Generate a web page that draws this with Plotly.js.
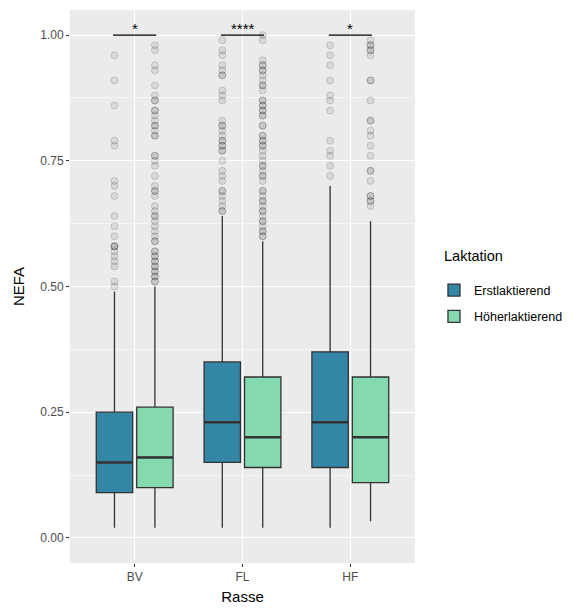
<!DOCTYPE html>
<html>
<head>
<meta charset="utf-8">
<script src="https://cdn.plot.ly/plotly-3.0.1.min.js"></script>
<style>html,body{margin:0;padding:0;background:#fff;}#chart{width:585px;height:609px;}</style>
</head>
<body>
<div id="chart"></div>
<script>
// ---- data ----
var categories = ['BV', 'FL', 'HF'];
var groups = ['Erstlaktierend', 'Höherlaktierend'];
var groupColors = ['#3386A6', '#84DAAE'];
var legendTitle = 'Laktation';

var erstLower  = [0.02, 0.02, 0.02];
var erstQ1     = [0.09, 0.15, 0.14];
var erstMedian = [0.15, 0.23, 0.23];
var erstQ3     = [0.25, 0.35, 0.37];
var erstUpper  = [0.49, 0.64, 0.70];

var hoehLower  = [0.02, 0.02, 0.033];
var hoehQ1     = [0.10, 0.14, 0.11];
var hoehMedian = [0.16, 0.20, 0.20];
var hoehQ3     = [0.26, 0.32, 0.32];
var hoehUpper  = [0.50, 0.59, 0.63];

var erstOutBV = [0.96, 0.91, 0.86, 0.79, 0.78, 0.71, 0.70, 0.68, 0.64, 0.62, 0.60, 0.58, 0.58, 0.58, 0.57, 0.56, 0.55, 0.54, 0.51, 0.50];
var erstOutFL = [0.99, 0.97, 0.96, 0.94, 0.93, 0.92, 0.92, 0.89, 0.88, 0.87, 0.83, 0.82, 0.82, 0.81, 0.80, 0.79, 0.79, 0.78, 0.78, 0.77, 0.77, 0.75, 0.73, 0.72, 0.71, 0.69, 0.69, 0.68, 0.67, 0.66, 0.65, 0.65];
var erstOutHF = [0.98, 0.96, 0.94, 0.91, 0.88, 0.87, 0.85, 0.79, 0.77, 0.76, 0.74, 0.72];

var hoehOutBV = [0.98, 0.97, 0.94, 0.93, 0.90, 0.88, 0.87, 0.87, 0.85, 0.85, 0.84, 0.83, 0.82, 0.82, 0.81, 0.80, 0.80, 0.76, 0.76, 0.75, 0.74, 0.72, 0.70, 0.69, 0.69, 0.68, 0.66, 0.65, 0.64, 0.64, 0.63, 0.62, 0.61, 0.60, 0.59, 0.59, 0.57, 0.57, 0.56, 0.56, 0.55, 0.55, 0.54, 0.54, 0.53, 0.53, 0.52, 0.52, 0.51, 0.51];
var hoehOutFL = [1.00, 0.99, 0.95, 0.94, 0.94, 0.93, 0.93, 0.92, 0.91, 0.90, 0.90, 0.89, 0.87, 0.87, 0.86, 0.86, 0.85, 0.85, 0.84, 0.84, 0.82, 0.82, 0.80, 0.80, 0.79, 0.79, 0.78, 0.78, 0.77, 0.76, 0.75, 0.74, 0.74, 0.73, 0.72, 0.72, 0.71, 0.69, 0.69, 0.68, 0.67, 0.67, 0.66, 0.65, 0.65, 0.64, 0.63, 0.63, 0.62, 0.61, 0.61, 0.60, 0.60];
var hoehOutHF = [0.99, 0.98, 0.98, 0.97, 0.97, 0.96, 0.91, 0.91, 0.87, 0.83, 0.83, 0.81, 0.80, 0.78, 0.76, 0.73, 0.73, 0.71, 0.68, 0.68, 0.67, 0.67, 0.66];

var sigLabels = ['*', '****', '*'];
var sigY = 1.0;
var yTicks = [0, 0.25, 0.5, 0.75, 1.0];
var yTickText = ['0.00', '0.25', '0.50', '0.75', '1.00'];

// ---- layout helpers ----
var dodge = 0.1875;
var boxW = 0.3375;
var offsets = [-dodge, dodge];
var lineCol = '#333333';
var FONT = 'Liberation Sans, Arial, sans-serif';

var stats = [
  {lo: erstLower, q1: erstQ1, med: erstMedian, q3: erstQ3, hi: erstUpper, out: [erstOutBV, erstOutFL, erstOutHF]},
  {lo: hoehLower, q1: hoehQ1, med: hoehMedian, q3: hoehQ3, hi: hoehUpper, out: [hoehOutBV, hoehOutFL, hoehOutHF]}
];

var traces = [];
var shapes = [];
var annotations = [];

stats.forEach(function (s, g) {
  var xs = categories.map(function (c, i) { return i + 1 + offsets[g]; });
  var ox = [], oy = [];
  s.out.forEach(function (arr, i) {
    arr.forEach(function (v) { ox.push(xs[i]); oy.push(v); });
  });
  traces.push({
    type: 'scatter', mode: 'markers', x: ox, y: oy, showlegend: false, hoverinfo: 'y',
    marker: {size: 7, color: 'rgba(0,0,0,0.075)', line: {color: 'rgba(0,0,0,0.15)', width: 1}}
  });
  traces.push({
    type: 'box', name: groups[g], x: xs, legendgroup: 'g' + g,
    q1: s.q1, median: s.med, q3: s.q3, lowerfence: s.lo, upperfence: s.hi,
    width: boxW, whiskerwidth: 0, boxpoints: false,
    fillcolor: groupColors[g], line: {color: lineCol, width: 1.3},
    marker: {color: groupColors[g]}
  });
  xs.forEach(function (x, i) {
    shapes.push({type: 'line', xref: 'x', yref: 'y', x0: x - boxW / 2, x1: x + boxW / 2,
      y0: s.med[i], y1: s.med[i], line: {color: lineCol, width: 2.6}});
  });
});

categories.forEach(function (c, i) {
  var x0 = i + 1 + offsets[0] - 0.0125, x1 = i + 1 + offsets[1] + 0.0125;
  shapes.push({type: 'line', xref: 'x', yref: 'y', x0: x0, x1: x1, y0: sigY, y1: sigY,
    line: {color: '#000000', width: 1.1}});
  annotations.push({xref: 'x', yref: 'y', x: i + 1, y: sigY, text: sigLabels[i], showarrow: false,
    yanchor: 'bottom', yshift: -4, font: {family: FONT, size: 15, color: '#000000'}});
});

annotations.push({xref: 'paper', yref: 'paper', x: 1.078, y: 0.555, xanchor: 'left', yanchor: 'middle',
  text: legendTitle, showarrow: false, font: {family: FONT, size: 14.5, color: '#000000'}});

var layout = {
  width: 585, height: 609,
  margin: {l: 70, r: 170, t: 10, b: 46},
  paper_bgcolor: '#ffffff', plot_bgcolor: '#EBEBEB',
  font: {family: FONT, color: '#000000'},
  showlegend: true,
  xaxis: {
    range: [0.4, 3.6], tickvals: [1, 2, 3], ticktext: categories, zeroline: false,
    showgrid: true, gridcolor: '#ffffff', gridwidth: 1.1,
    ticks: 'outside', ticklen: 3, tickcolor: '#333333', tickwidth: 1,
    tickfont: {size: 12, color: '#4D4D4D'},
    title: {text: 'Rasse', font: {size: 15, color: '#000000'}, standoff: 8},
    showline: false
  },
  yaxis: {
    range: [-0.05, 1.05], tickvals: yTicks, ticktext: yTickText, zeroline: false,
    showgrid: true, gridcolor: '#ffffff', gridwidth: 1.1,
    minor: {dtick: 0.125, tick0: 0.125, showgrid: true, gridcolor: '#ffffff', gridwidth: 0.5, ticks: ''},
    ticks: 'outside', ticklen: 3, tickcolor: '#333333', tickwidth: 1,
    tickfont: {size: 12, color: '#4D4D4D'},
    title: {text: 'NEFA', font: {size: 15, color: '#000000'}, standoff: 11},
    showline: false
  },
  legend: {
    x: 1.055, xanchor: 'left', y: 0.52, yanchor: 'top',
    bgcolor: 'rgba(0,0,0,0)', font: {size: 12.5, color: '#000000'},
    tracegroupgap: 7
  },
  shapes: shapes,
  annotations: annotations
};

Plotly.newPlot('chart', traces, layout, {displayModeBar: false, staticPlot: true});
</script>
</body>
</html>
